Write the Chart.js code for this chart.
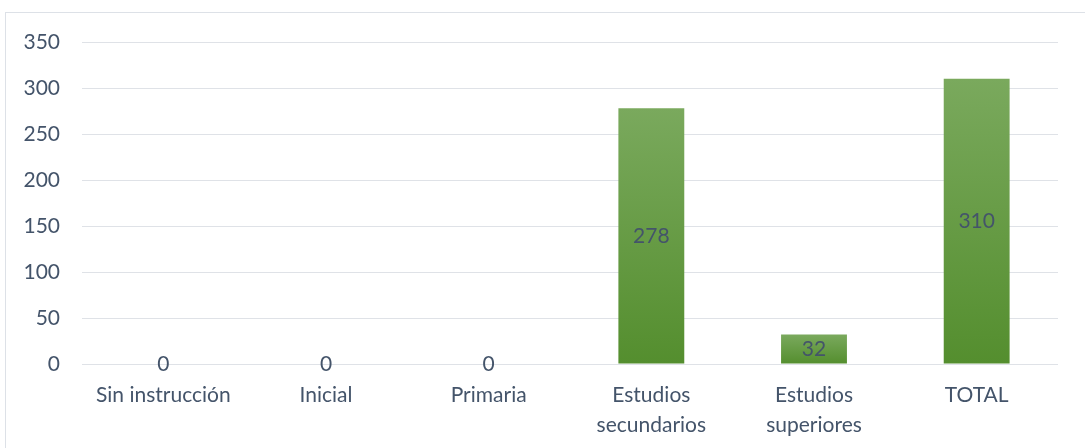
<!DOCTYPE html>
<html>
<head>
<meta charset="utf-8">
<script src="https://cdn.jsdelivr.net/npm/chart.js@4"></script>
<style>
  html, body { margin: 0; padding: 0; background: #fff; }
  #wrap { position: relative; width: 1085px; height: 448px; overflow: hidden; }
  #frame { position: absolute; left: 5px; top: 12px; width: 1100px; height: 460px; border: 1px solid #dde1e7; box-sizing: border-box; }
  #chart { position: absolute; left: 0; top: 0; }
</style>
</head>
<body>
<div id="wrap">
  <div id="frame"></div>
  <canvas id="chart" width="1085" height="448"></canvas>
</div>
<script>
// Datos
var categorias = ['Sin instrucción', 'Inicial', 'Primaria', ['Estudios', 'secundarios'], ['Estudios', 'superiores'], 'TOTAL'];
var valores = [0, 0, 0, 278, 32, 310];
var ejeMax = 350;
var ejePaso = 50;

var textColor = '#44546a';
var gridColor = '#dfe2e7';
var fuente = 'Lato, "Liberation Sans", sans-serif';

// Degradado por barra (claro arriba, oscuro abajo)
function colorBarra(ctx) {
    var chart = ctx.chart;
    if (!chart.chartArea || !chart.scales.y) return '#63993f';
    var v = valores[ctx.dataIndex];
    var y = chart.scales.y;
    var top = y.getPixelForValue(v);
    var bottom = y.getPixelForValue(0);
    if (bottom - top < 1) return '#63993f';
    var g = chart.ctx.createLinearGradient(0, top, 0, bottom);
    g.addColorStop(0, '#7aa95d');
    g.addColorStop(1, '#548e2e');
    return g;
}

// Etiquetas de valor centradas en cada barra
var etiquetas = {
    id: 'etiquetas',
    afterDatasetsDraw: function(chart) {
        var ctx = chart.ctx;
        var meta = chart.getDatasetMeta(0);
        ctx.save();
        ctx.font = '21px ' + fuente;
        ctx.fillStyle = textColor;
        ctx.textAlign = 'center';
        ctx.textBaseline = 'middle';
        meta.data.forEach(function(bar, i) {
            var mid = (bar.y + bar.base) / 2;
            ctx.fillText(String(valores[i]), bar.x, mid);
        });
        ctx.restore();
    }
};

var chart = new Chart(document.getElementById('chart').getContext('2d'), {
    type: 'bar',
    data: {
        labels: categorias,
        datasets: [{
            data: valores,
            backgroundColor: colorBarra,
            borderWidth: 0,
            barPercentage: 0.405,
            categoryPercentage: 1
        }]
    },
    options: {
        responsive: false,
        animation: false,
        layout: { padding: { top: 42, right: 27, bottom: 0, left: 0 } },
        plugins: {
            legend: { display: false },
            tooltip: { enabled: false }
        },
        scales: {
            x: {
                grid: { display: false, drawTicks: false },
                border: { display: false },
                ticks: {
                    color: textColor,
                    font: { family: fuente, size: 21, lineHeight: 1.43 },
                    padding: 16,
                    maxRotation: 0,
                    autoSkip: false
                },
                afterFit: function(s) { s.height = 84; }
            },
            y: {
                min: 0,
                max: ejeMax,
                grid: { color: gridColor, lineWidth: 1, drawTicks: false },
                border: { display: false },
                ticks: {
                    stepSize: ejePaso,
                    color: textColor,
                    font: { family: fuente, size: 21 },
                    padding: 22
                },
                afterFit: function(s) { s.width = 82; }
            }
        }
    },
    plugins: [etiquetas]
});
</script>
</body>
</html>
